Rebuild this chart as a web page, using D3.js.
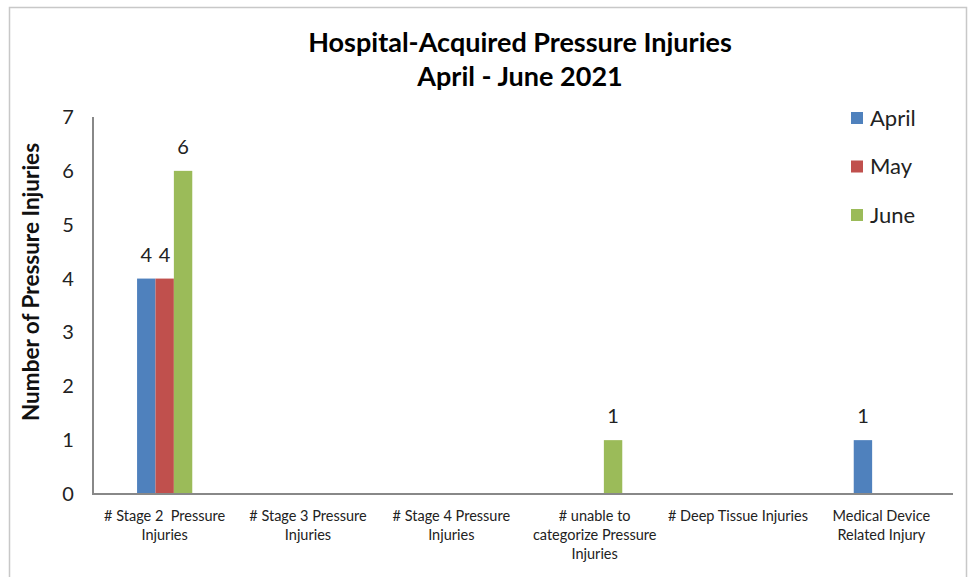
<!DOCTYPE html>
<html>
<head>
<meta charset="utf-8">
<script src="https://cdn.jsdelivr.net/npm/d3@7.9.0/dist/d3.min.js"></script>
<style>
  body { margin: 0; background: #fff; }
  svg { display: block; font-family: Lato, "Open Sans", sans-serif; }
  .cat { white-space: pre; }
</style>
</head>
<body>
<svg id="chart" width="969" height="577"></svg>
<script>
// data
const categories = [
  ['# Stage 2  Pressure', 'Injuries'],
  ['# Stage 3 Pressure', 'Injuries'],
  ['# Stage 4 Pressure', 'Injuries'],
  ['# unable to', 'categorize Pressure', 'Injuries'],
  ['# Deep Tissue Injuries'],
  ['Medical Device', 'Related Injury']
];
const months = ['April', 'May', 'June'];
const april = [4, 0, 0, 0, 0, 1];
const may = [4, 0, 0, 0, 0, 0];
const june = [6, 0, 0, 1, 0, 0];
const yTicks = [0, 1, 2, 3, 4, 5, 6, 7];
const colors = ['#4f81bd', '#c0504d', '#9bbb59'];

const series = [april, may, june];

const svg = d3.select('#chart');

// outer frame (top, left and right edges show)
svg.append('path')
  .attr('d', 'M9.5,577 V7.5 H966.5 V577')
  .attr('fill', 'none')
  .attr('stroke', '#c8c8c8')
  .attr('stroke-width', 1.5);

const plotLeft = 93, plotRight = 953, plotTop = 117, plotBottom = 494;

let x = d3.scaleBand()
  .domain(d3.range(categories.length))
  .range([plotLeft, plotRight]);

let y = d3.scaleLinear()
  .domain([0, 7])
  .range([plotBottom, plotTop]);

const barW = 18.4;

// title
const title = svg.append('text')
  .attr('text-anchor', 'middle')
  .attr('font-weight', 'bold')
  .attr('font-size', 27)
  .attr('fill', '#000');
title.append('tspan').attr('x', 520).attr('y', 52).text('Hospital-Acquired Pressure Injuries');
title.append('tspan').attr('x', 520).attr('y', 86).text('April - June 2021');

// y tick labels
svg.selectAll('.ytick')
  .data(yTicks)
  .join('text')
  .attr('class', 'ytick')
  .attr('x', 68)
  .attr('y', d => y(d))
  .attr('dy', '0.35em')
  .attr('text-anchor', 'middle')
  .attr('font-size', 20)
  .attr('fill', '#222')
  .text(d => d);

// y axis title
svg.append('text')
  .attr('transform', 'translate(39,282) rotate(-90)')
  .attr('text-anchor', 'middle')
  .attr('font-weight', 'bold')
  .attr('font-size', 22.5)
  .attr('fill', '#111')
  .text('Number of Pressure Injuries');

// bars
series.forEach((values, s) => {
  const g = svg.append('g');
  values.forEach((v, i) => {
    if (v === 0) return;
    const cx = x(i) + x.bandwidth() / 2;
    const bx = cx + (s - 1.5) * barW;
    g.append('rect')
      .attr('x', bx)
      .attr('y', y(v))
      .attr('width', barW)
      .attr('height', y(0) - y(v))
      .attr('fill', colors[s]);
    g.append('text')
      .attr('x', bx + barW / 2)
      .attr('y', y(v) - 17)
      .attr('text-anchor', 'middle')
      .attr('font-size', 20)
      .attr('fill', '#222')
      .text(v);
  });
});

// axis lines
svg.append('path')
  .attr('d', `M${plotLeft},${plotTop} V${plotBottom} H${plotRight}`)
  .attr('fill', 'none')
  .attr('stroke', '#888')
  .attr('stroke-width', 2);

// category labels
categories.forEach((lines, i) => {
  const t = svg.append('text')
    .attr('class', 'cat')
    .attr('text-anchor', 'middle')
    .attr('font-size', 14.5)
    .attr('fill', '#222');
  lines.forEach((line, k) => {
    t.append('tspan')
      .attr('x', x(i) + x.bandwidth() / 2)
      .attr('y', 521 + k * 19)
      .text(line);
  });
});

// legend
months.forEach((m, i) => {
  const ly = 118 + i * 48.5;
  svg.append('rect')
    .attr('x', 851)
    .attr('y', ly - 6)
    .attr('width', 12)
    .attr('height', 12)
    .attr('fill', colors[i]);
  svg.append('text')
    .attr('x', 870)
    .attr('y', ly)
    .attr('dy', '0.35em')
    .attr('font-size', 22)
    .attr('fill', '#222')
    .text(m);
});
</script>
</body>
</html>
